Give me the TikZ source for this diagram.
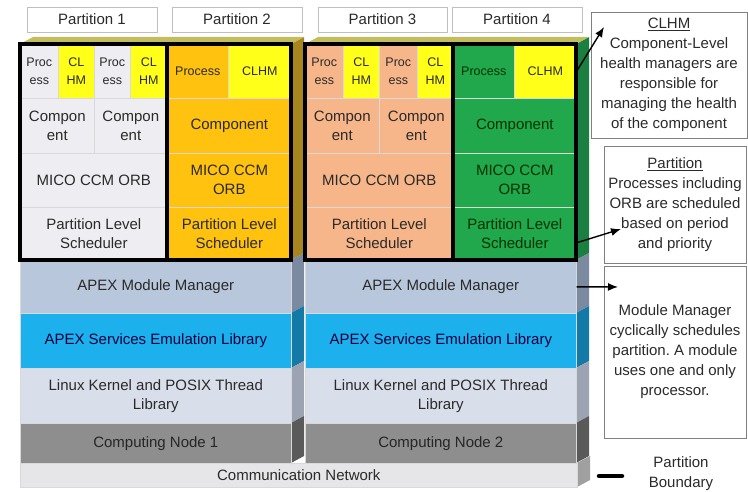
\documentclass[tikz,border=0pt]{standalone}
\usepackage{fontspec}
\setmainfont{Liberation Sans}
\usetikzlibrary{arrows.meta}
\frenchspacing
\definecolor{pgray}{HTML}{EDEDF2}
\definecolor{hmyel}{HTML}{FFFF1A}
\definecolor{porange}{HTML}{FFC20E}
\definecolor{psalmon}{HTML}{F7B68A}
\definecolor{pgreen}{HTML}{22A84C}
\definecolor{modmgr}{HTML}{B8C7DB}
\definecolor{apexsvc}{HTML}{1CB0EC}
\definecolor{linuxk}{HTML}{D8DEEA}
\definecolor{cnode}{HTML}{8E8E8E}
\definecolor{comnet}{HTML}{E6E6E8}
\definecolor{txt}{HTML}{2A2A2A}
\definecolor{sideor}{HTML}{A8861E}
\definecolor{sidegr}{HTML}{1A7F40}
\definecolor{sidemm}{HTML}{7B8AA0}
\definecolor{sidesv}{HTML}{137AA8}
\definecolor{sidelk}{HTML}{9CA4B3}
\definecolor{sidecn}{HTML}{5A5A5A}
\definecolor{sidecm}{HTML}{A0A0A0}
\definecolor{topol}{HTML}{C2BE5E}
\tikzset{
  sz/.style 2 args={minimum width=#1pt,minimum height=#2pt},
  cell/.style={draw=black!15,line width=0.6pt,anchor=north west,inner sep=0pt,align=center,text=txt,font=\fontsize{15}{19}\selectfont},
  small/.style={font=\fontsize{12.5}{18}\selectfont},
  hdr/.style={draw=black!25,fill=white,inner sep=0pt,text=txt,font=\fontsize{15}{18}\selectfont},
  note/.style={draw=black!50,line width=0.8pt,inner sep=0pt,align=center,text=txt,font=\fontsize{15}{20}\selectfont},
  pbound/.style={draw=black,line width=4.5pt},
  pointer/.style={-{Latex[length=10pt,width=8pt]},line width=1.4pt}
}
\begin{document}
\begin{tikzpicture}[x=1pt,y=-1pt]
\useasboundingbox (0,0) rectangle (748,492);
% side and top faces
\fill[sideor] (291,44) -- (304,37) -- (304,253) -- (291,260) -- cycle;
\fill[sidemm] (291,260) -- (304,253) -- (304,306) -- (291,313) -- cycle;
\fill[sidesv] (291,313) -- (304,306) -- (304,361) -- (291,368) -- cycle;
\fill[sidelk] (291,368) -- (304,361) -- (304,416) -- (291,423) -- cycle;
\fill[sidecn] (291,423) -- (304,416) -- (304,456) -- (291,463) -- cycle;
\fill[topol] (20,44) -- (33,37) -- (304,37) -- (291,44) -- cycle;
\fill[sidegr] (576,44) -- (589,37) -- (589,253) -- (576,260) -- cycle;
\fill[sidemm] (576,260) -- (589,253) -- (589,306) -- (576,313) -- cycle;
\fill[sidesv] (576,313) -- (589,306) -- (589,361) -- (576,368) -- cycle;
\fill[sidelk] (576,368) -- (589,361) -- (589,416) -- (576,423) -- cycle;
\fill[sidecn] (576,423) -- (589,416) -- (589,456) -- (576,463) -- cycle;
\fill[sidecm] (577,463) -- (590,456) -- (590,480) -- (577,487) -- cycle;
\fill[topol] (305,44) -- (318,37) -- (589,37) -- (576,44) -- cycle;
% partition headers
\node (h1) at (92,19.5) [hdr,sz={130}{25}] {Partition 1};
\node (h2) at (237,19.5) [hdr,sz={130}{25}] {Partition 2};
\node (h3) at (382.5,19.5) [hdr,sz={129}{25}] {Partition 3};
\node (h4) at (517,19.5) [hdr,sz={130}{25}] {Partition 4};
% computing node 1
\node (p1a) at (20,44) [cell,small,fill=pgray,sz={38}{54}] {Proc\\ess};
\node (p1b) at (58,44) [cell,small,fill=hmyel,sz={36}{54}] {CL\\HM};
\node (p1c) at (94,44) [cell,small,fill=pgray,sz={36}{54}] {Proc\\ess};
\node (p1d) at (130,44) [cell,small,fill=hmyel,sz={37}{54}] {CL\\HM};
\node (p1e) at (20,98) [cell,fill=pgray,sz={74}{55}] {Compon\\ent};
\node (p1f) at (94,98) [cell,fill=pgray,sz={73}{55}] {Compon\\ent};
\node (p1g) at (20,153) [cell,fill=pgray,sz={147}{54}] {MICO CCM ORB};
\node (p1h) at (20,207) [cell,fill=pgray,sz={147}{53}] {Partition Level\\Scheduler};
\node (p2a) at (167,44) [cell,small,fill=porange,sz={61}{54}] {Process};
\node (p2b) at (228,44) [cell,small,fill=hmyel,sz={63}{54}] {CLHM};
\node (p2c) at (167,98) [cell,fill=porange,sz={124}{55}] {Component};
\node (p2d) at (167,153) [cell,fill=porange,sz={124}{54}] {MICO CCM\\ORB};
\node (p2e) at (167,207) [cell,fill=porange,sz={124}{53}] {Partition Level\\Scheduler};
\node (s1mm) at (20,260) [cell,fill=modmgr,sz={271}{53}] {APEX Module Manager};
\node (s1sv) at (20,313) [cell,fill=apexsvc,text=blue!25!black,sz={271}{55}] {APEX Services Emulation Library};
\node (s1lk) at (20,368) [cell,fill=linuxk,sz={271}{55}] {Linux Kernel and POSIX Thread\\Library};
\node (s1cn) at (20,423) [cell,fill=cnode,text=black!85,sz={271}{40}] {Computing Node 1};
\draw[pbound] (20,44) rectangle (167,260);
\draw[pbound] (167,44) rectangle (291,260);
% computing node 2
\node (p3a) at (305,44) [cell,small,fill=psalmon,sz={38}{54}] {Proc\\ess};
\node (p3b) at (343,44) [cell,small,fill=hmyel,sz={36}{54}] {CL\\HM};
\node (p3c) at (379,44) [cell,small,fill=psalmon,sz={38}{54}] {Proc\\ess};
\node (p3d) at (417,44) [cell,small,fill=hmyel,sz={36}{54}] {CL\\HM};
\node (p3e) at (305,98) [cell,fill=psalmon,sz={74}{55}] {Compon\\ent};
\node (p3f) at (379,98) [cell,fill=psalmon,sz={74}{55}] {Compon\\ent};
\node (p3g) at (305,153) [cell,fill=psalmon,sz={148}{54}] {MICO CCM ORB};
\node (p3h) at (305,207) [cell,fill=psalmon,sz={148}{53}] {Partition Level\\Scheduler};
\node (p4a) at (453,44) [cell,small,fill=pgreen,text=green!20!black,sz={61}{54}] {Process};
\node (p4b) at (514,44) [cell,small,fill=hmyel,sz={62}{54}] {CLHM};
\node (p4c) at (453,98) [cell,fill=pgreen,text=green!20!black,sz={123}{55}] {Component};
\node (p4d) at (453,153) [cell,fill=pgreen,text=green!20!black,sz={123}{54}] {MICO CCM\\ORB};
\node (p4e) at (453,207) [cell,fill=pgreen,text=green!20!black,sz={123}{53}] {Partition Level\\Scheduler};
\node (s2mm) at (305,260) [cell,fill=modmgr,sz={271}{53}] {APEX Module Manager};
\node (s2sv) at (305,313) [cell,fill=apexsvc,text=blue!25!black,sz={271}{55}] {APEX Services Emulation Library};
\node (s2lk) at (305,368) [cell,fill=linuxk,sz={271}{55}] {Linux Kernel and POSIX Thread\\Library};
\node (s2cn) at (305,423) [cell,fill=cnode,text=black!85,sz={271}{40}] {Computing Node 2};
\draw[pbound] (305,44) rectangle (453,260);
\draw[pbound] (453,44) rectangle (576,260);
\node (net) at (20,463) [cell,fill=comnet,sz={557}{24}] {Communication Network};
% notes
\node (n1) at (669,75) [note,sz={156}{126}] {\underline{CLHM}\\Component-Level\\health managers are\\responsible for\\managing the health\\of the component};
\node (n2) at (675,204.5) [note,sz={142}{117}] {\underline{Partition}\\Processes including\\ORB are scheduled\\based on period\\and priority};
\node (n3) at (675,352) [note,sz={142}{172}] {Module Manager\\cyclically schedules\\partition. A module\\uses one and only\\processor.};
\coordinate (t1) at (604,27);
\coordinate (t2) at (621,229);
\coordinate (t3) at (618,287);
\draw[pointer] (p4b.east) -- (t1);
\draw[pointer] ([yshift=-9pt]p4e.east) -- (t2);
\draw[pointer] (s2mm.east) -- (t3);
% legend
\coordinate (lg1) at (599,476);
\coordinate (lg2) at (622,476);
\draw[line width=4.5pt,line cap=round] (lg1) -- (lg2);
\node (lgt) at (681,474) [align=center,text=txt,font=\fontsize{15}{20}\selectfont] {Partition\\Boundary};
\end{tikzpicture}
\end{document}
